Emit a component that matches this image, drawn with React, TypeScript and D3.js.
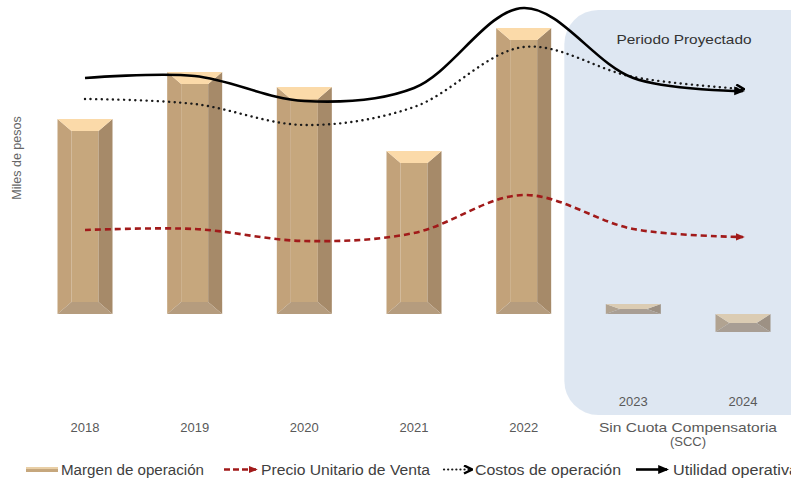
import React from 'react';
import * as d3 from 'd3';

// categories
const years = ['2018', '2019', '2020', '2021', '2022', '2023', '2024'];
const projected = ['2023', '2024'];

// Margen de operación (bars)
const margen = [195, 242, 227, 163, 286, 10, -18];
// lines
const precio = [84, 85, 73, 81, 119, 85, 77];
const costos = [215, 210, 189, 207, 267, 237, 225];
const utilidad = [236, 238, 213, 226, 306, 236, 223];

const W = 791;
const H = 483;
const FONT = '"Liberation Sans", Arial, sans-serif';

const x = d3.scalePoint<string>().domain(years).range([85, 743]);
const y = d3.scaleLinear().domain([-50, 300]).range([364, 14]);

const barW = 55;

function bevelBar(cx: number, v: number) {
  const x0 = cx - barW / 2;
  const x1 = cx + barW / 2;
  const yT = Math.min(y(v), y(0));
  const yB = Math.max(y(v), y(0));
  const h = yB - yT;
  const b = Math.min(12, h / 2);
  const bx = 14;
  const pts = (a: number[][]) => a.map((p) => p.join(',')).join(' ');
  return {
    front: [x0 + bx, yT + b, x1 - x0 - 2 * bx, Math.max(0, h - 2 * b)],
    top: pts([[x0, yT], [x1, yT], [x1 - bx, yT + b], [x0 + bx, yT + b]]),
    bottom: pts([[x0, yB], [x1, yB], [x1 - bx, yB - b], [x0 + bx, yB - b]]),
    left: pts([[x0, yT], [x0 + bx, yT + b], [x0 + bx, yB - b], [x0, yB]]),
    right: pts([[x1, yT], [x1 - bx, yT + b], [x1 - bx, yB - b], [x1, yB]]),
  };
}

const Bar = ({ cx, v }: { cx: number; v: number }) => {
  const g = bevelBar(cx, v);
  return (
    <g>
      <rect x={g.front[0]} y={g.front[1]} width={g.front[2]} height={g.front[3]} fill='#c6a77d' />
      <polygon points={g.left} fill='#c2a27a' />
      <polygon points={g.right} fill='#a68a69' />
      <polygon points={g.bottom} fill='#b59c7e' />
      <polygon points={g.top} fill='#fbdaa9' />
    </g>
  );
};

const lineGen = d3
  .line<number>()
  .x((_, i) => x(years[i]) as number)
  .y((d) => y(d))
  .curve(d3.curveCatmullRom.alpha(0.5));

const App = () => {
  const regionX = (x(projected[0]) as number) - 69;
  return (
    <svg width={W} height={H} style={{ position: 'absolute', left: 0, top: 0 }} fontFamily={FONT}>
      <defs>
        <marker id='arRed' viewBox='0 0 10 10' refX='8' refY='5' markerWidth='9' markerHeight='9' markerUnits='userSpaceOnUse' orient='auto'>
          <path d='M0,1 L10,5 L0,9 z' fill='#a11a1a' />
        </marker>
        <marker id='arBlack' viewBox='0 0 10 10' refX='8' refY='5' markerWidth='11' markerHeight='11' markerUnits='userSpaceOnUse' orient='auto'>
          <path d='M0,1 L10,5 L0,9 z' fill='#000' />
        </marker>
        <marker id='arDot' viewBox='0 0 10 10' refX='8' refY='5' markerWidth='10' markerHeight='10' markerUnits='userSpaceOnUse' orient='auto'>
          <path d='M1,1 L9,5 L1,9' fill='none' stroke='#000' strokeWidth='2.5' />
        </marker>
      </defs>
      <rect width={W} height={H} fill='#fff' />

      {years.map((yr, i) => (
        <Bar key={yr} cx={x(yr) as number} v={margen[i]} />
      ))}

      {/* projected period */}
      <rect x={regionX} y={10} width={W - regionX + 40} height={405} rx={34} fill='#85a7cf' fillOpacity={0.27} />
      <text x={684} y={44} textAnchor='middle' fontSize={13} fill='#333' textLength={135} lengthAdjust='spacingAndGlyphs'>
        Periodo Proyectado
      </text>

      {/* lines */}
      <path d={lineGen(precio) || ''} fill='none' stroke='#a11a1a' strokeWidth={2.6} strokeDasharray='6,4' markerEnd='url(#arRed)' />
      <path d={lineGen(costos) || ''} fill='none' stroke='#1a1a1a' strokeWidth={2.4} strokeDasharray='0.1,5.5' strokeLinecap='round' markerEnd='url(#arDot)' />
      <path d={lineGen(utilidad) || ''} fill='none' stroke='#000' strokeWidth={2.6} markerEnd='url(#arBlack)' />

      {/* y title */}
      <text transform='translate(21,158) rotate(-90)' textAnchor='middle' fontSize={12.5} fill='#666'>
        Miles de pesos
      </text>

      {/* x labels */}
      {years.map((yr) => {
        const proj = projected.includes(yr);
        return (
          <text key={yr} x={x(yr)} y={proj ? 406 : 432} textAnchor='middle' fontSize={13} fill='#595959'>
            {yr}
          </text>
        );
      })}
      <text x={688} y={432} textAnchor='middle' fontSize={13} fill='#595959' textLength={178} lengthAdjust='spacingAndGlyphs'>
        Sin Cuota Compensatoria
      </text>
      <text x={688} y={446} textAnchor='middle' fontSize={13} fill='#595959'>
        (SCC)
      </text>

      {/* legend */}
      <g fontSize={14} fill='#404040'>
        <rect x={26} y={467} width={32} height={5} fill='#c6a77d' />
        <rect x={26} y={467} width={32} height={2} fill='#e9cfa6' />
        <text x={61} y={475} textLength={143} lengthAdjust='spacingAndGlyphs'>Margen de operación</text>

        <line x1={224} y1={469.5} x2={256} y2={469.5} stroke='#a11a1a' strokeWidth={2.6} strokeDasharray='6,3' markerEnd='url(#arRed)' />
        <text x={261} y={475} textLength={169} lengthAdjust='spacingAndGlyphs'>Precio Unitario de Venta</text>

        <line x1={444} y1={469.5} x2={471} y2={469.5} stroke='#1a1a1a' strokeWidth={2.2} strokeDasharray='0.1,4' strokeLinecap='round' markerEnd='url(#arDot)' />
        <text x={475} y={475} textLength={146} lengthAdjust='spacingAndGlyphs'>Costos de operación</text>

        <line x1={636} y1={469.5} x2={667} y2={469.5} stroke='#000' strokeWidth={2.6} markerEnd='url(#arBlack)' />
        <text x={673} y={475} textLength={125} lengthAdjust='spacingAndGlyphs'>Utilidad operativa</text>
      </g>
    </svg>
  );
};

export default App;
